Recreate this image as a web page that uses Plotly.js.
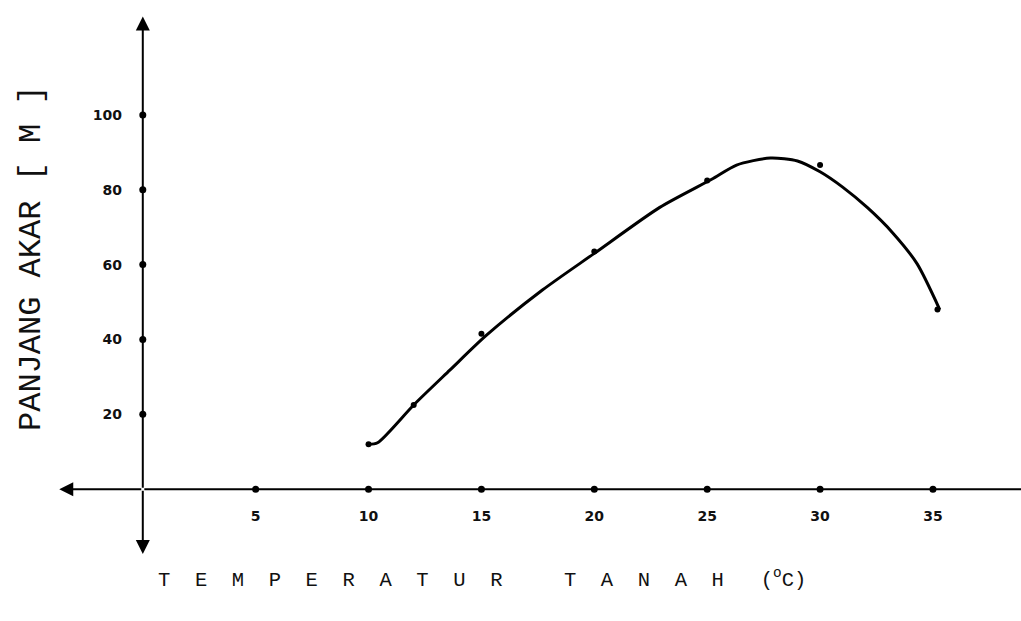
<!DOCTYPE html>
<html>
<head>
<meta charset="utf-8">
<script src="https://cdn.plot.ly/plotly-3.0.1.min.js"></script>
<style>html,body{margin:0;padding:0;background:#fff;}#chart{width:1021px;height:621px;}</style>
</head>
<body>
<div id="chart"></div>
<script>
// Measured data points (temperature °C, root length M)
const temps   = [10, 12, 15, 20, 25, 30, 35.2];
const lengths = [12, 22.5, 41.5, 63.5, 82.5, 86.6, 48];

// Hand-drawn fitted curve
const curveX = [10, 10.4, 12, 13.6, 15.2, 17.7, 20, 22.9, 25.2, 26.3, 27.8, 29, 30, 31, 32.1, 33.2, 34.3, 35.3];
const curveY = [12, 12.4, 22.5, 31.8, 41, 53.2, 63, 75.3, 82.8, 86.6, 88.5, 87.7, 84.8, 80.7, 75.2, 68.6, 60.2, 48];

// Tick labels
const xTicks = [5, 10, 15, 20, 25, 30, 35];
const xTickText = ['5', '10', '15', '20', '25', '30', '35'];
const yTicks = [20, 40, 60, 80, 100];
const yTickText = ['20', '40', '60', '80', '100'];

const xTitle = 'T\u00A0\u00A0E\u00A0\u00A0M\u00A0\u00A0P\u00A0\u00A0E\u00A0\u00A0R\u00A0\u00A0A\u00A0\u00A0T\u00A0\u00A0U\u00A0\u00A0R\u00A0\u00A0\u00A0\u00A0\u00A0T\u00A0\u00A0A\u00A0\u00A0N\u00A0\u00A0A\u00A0\u00A0H\u00A0\u00A0\u00A0(<sup>o</sup>C)';
const yTitle = 'PANJANG AKAR [ M ]';

const xRange = [-3.8, 38.9];
const yRange = [-17.6, 126.7];

const tickFont = {family: 'DejaVu Sans', size: 14, color: '#111', weight: 'bold'};
const typeFont = {family: 'Liberation Mono', color: '#111'};

const traces = [
  { // tick dots on the x axis
    x: xTicks, y: xTicks.map(() => 0), mode: 'markers', type: 'scatter',
    marker: {color: '#000', size: 7}, hoverinfo: 'skip', showlegend: false
  },
  { // tick dots on the y axis
    x: yTicks.map(() => 0), y: yTicks, mode: 'markers', type: 'scatter',
    marker: {color: '#000', size: 7}, hoverinfo: 'skip', showlegend: false
  },
  {
    x: curveX, y: curveY, mode: 'lines', type: 'scatter',
    line: {color: '#000', width: 3, shape: 'spline', smoothing: 0.7},
    showlegend: false
  },
  {
    x: temps, y: lengths, mode: 'markers', type: 'scatter',
    marker: {color: '#000', size: 6}, showlegend: false
  }
];

const layout = {
  width: 1021, height: 621,
  margin: {l: 57, r: 0, t: 15, b: 66},
  paper_bgcolor: '#fff', plot_bgcolor: '#fff',
  showlegend: false,
  xaxis: {
    range: xRange, anchor: 'free',
    position: (0 - yRange[0]) / (yRange[1] - yRange[0]),
    tickvals: xTicks, ticktext: xTickText, ticks: 'outside', ticklen: 0,
    ticklabelstandoff: 14,
    tickfont: tickFont, showgrid: false, zeroline: false, showline: false
  },
  yaxis: {
    range: yRange, anchor: 'free',
    position: (0 - xRange[0]) / (xRange[1] - xRange[0]),
    tickvals: yTicks, ticktext: yTickText, ticks: 'outside', ticklen: 0,
    ticklabelstandoff: 18,
    tickfont: tickFont, showgrid: false, zeroline: false, showline: false
  },
  annotations: [
    // axis arrows
    {x: 0, y: 126.3, ax: 0, ay: 0, xref: 'x', yref: 'y', axref: 'x', ayref: 'y', text: '', showarrow: true, arrowhead: 2, arrowsize: 1.4, arrowwidth: 2, arrowcolor: '#000'},
    {x: 0, y: -17.3, ax: 0, ay: 0, xref: 'x', yref: 'y', axref: 'x', ayref: 'y', text: '', showarrow: true, arrowhead: 2, arrowsize: 1.4, arrowwidth: 2, arrowcolor: '#000'},
    {x: -3.7, y: 0, ax: 0, ay: 0, xref: 'x', yref: 'y', axref: 'x', ayref: 'y', text: '', showarrow: true, arrowhead: 2, arrowsize: 1.4, arrowwidth: 2, arrowcolor: '#000'},
    {x: 38.9, y: 0, ax: 0, ay: 0, xref: 'x', yref: 'y', axref: 'x', ayref: 'y', text: '', showarrow: true, arrowhead: 0, arrowwidth: 2, arrowcolor: '#000'},
    // axis titles
    {x: 482, y: 578, xref: 'paper', yref: 'paper', xanchor: 'center', yanchor: 'middle', text: xTitle, showarrow: false,
     font: Object.assign({size: 20.5}, typeFont)},
    {x: 31, y: 258, xref: 'paper', yref: 'paper', xanchor: 'center', yanchor: 'middle', text: yTitle, showarrow: false, textangle: -90,
     font: Object.assign({size: 32}, typeFont)}
  ]
};

// convert pixel-placed titles to paper fractions
const pw = layout.width - layout.margin.l - layout.margin.r;
const ph = layout.height - layout.margin.t - layout.margin.b;
layout.annotations.forEach(a => {
  if (a.xref === 'paper') {
    a.x = (a.x - layout.margin.l) / pw;
    a.y = 1 - (a.y - layout.margin.t) / ph;
  }
});

Plotly.newPlot('chart', traces, layout, {displayModeBar: false, staticPlot: true});
</script>
</body>
</html>
